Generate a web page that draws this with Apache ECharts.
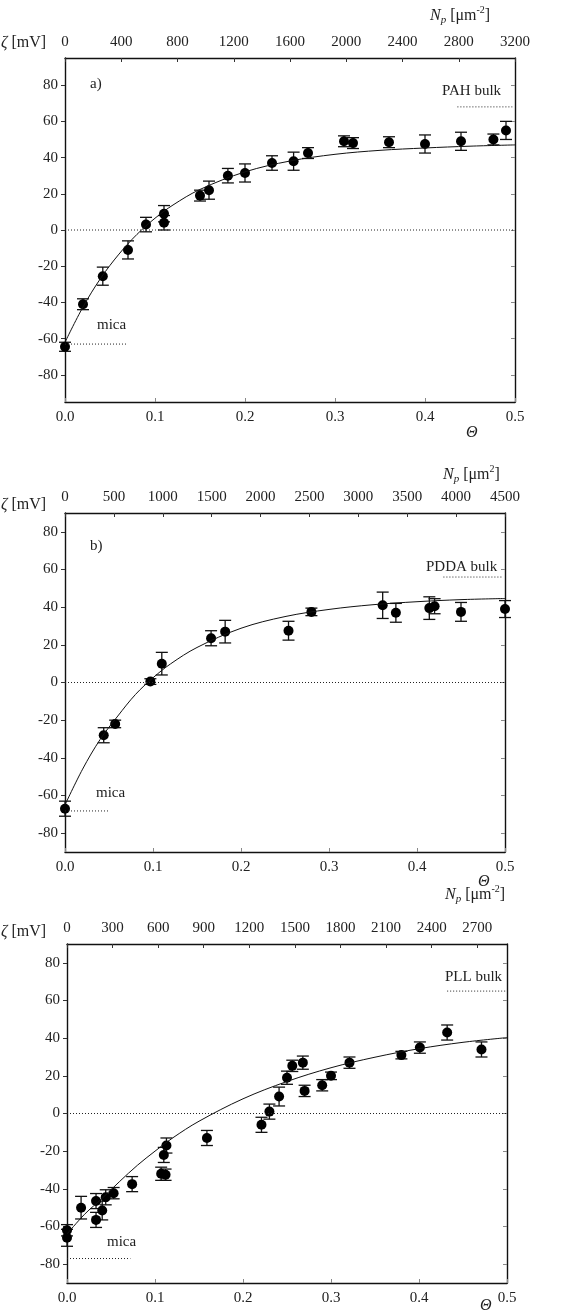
<!DOCTYPE html>
<html>
<head>
<meta charset="utf-8">
<script src="https://cdn.jsdelivr.net/npm/echarts@6/dist/echarts.min.js"></script>
<style>
html,body{margin:0;padding:0;background:#fff;}
#chart{width:564px;height:1313px;}
</style>
</head>
<body>
<div id="chart"></div>
<script>
// ---------- DATA ----------
const yTickValues = [-80, -60, -40, -20, 0, 20, 40, 60, 80];

// Panel a (PAH)
const thetaA = [0, 0.02, 0.042, 0.07, 0.09, 0.11, 0.11, 0.15, 0.16, 0.181, 0.2, 0.23, 0.254, 0.27, 0.31, 0.32, 0.36, 0.4, 0.44, 0.476, 0.49];
const zetaA  = [-64.5, -41, -25.5, -11, 3, 9, 4, 19, 22, 30, 31.5, 37, 38, 42.5, 49, 48, 48.5, 47.5, 49, 50, 55];
const errA   = [2.5, 3, 5, 5, 4, 4.5, 4, 3, 5, 4, 5, 4, 5, 3, 3, 3, 3, 5, 5, 3, 5];
const curveThetaA = [0, 0.02, 0.04, 0.06, 0.08, 0.1, 0.12, 0.15, 0.2, 0.25, 0.3, 0.35, 0.4, 0.45, 0.5];
const curveZetaA  = [-62, -42.5, -26.4, -13.3, -2.4, 6.5, 13.8, 22.4, 32.1, 38.1, 41.8, 44, 45.3, 46.3, 47];
const micaA = {level: -63, span: [0, 0.069]};
const bulkA = {level: 68, span: [0.436, 0.497]};
const topTicksA = {max: 3200, interval: 400};

// Panel b (PDDA)
const thetaB = [0, 0.044, 0.057, 0.097, 0.11, 0.166, 0.182, 0.254, 0.28, 0.361, 0.376, 0.414, 0.42, 0.45, 0.5];
const zetaB  = [-67, -28, -22, 0.5, 10, 23.5, 27, 27.5, 37.5, 41, 37, 39.5, 40.5, 37.5, 39];
const errB   = [4, 4, 2, 1.5, 6, 4, 6, 5, 2, 7, 5, 6, 4, 5, 4.5];
const curveThetaB = [0, 0.02, 0.04, 0.06, 0.08, 0.1, 0.12, 0.15, 0.2, 0.25, 0.3, 0.35, 0.4, 0.45, 0.5];
const curveZetaB  = [-65, -46, -30.2, -17.8, -6.4, 2.5, 9.9, 18.6, 28.8, 35, 38.8, 41.3, 42.9, 44, 44.6];
const micaB = {level: -68.2, span: [0, 0.051]};
const bulkB = {level: 56, span: [0.43, 0.498]};
const topTicksB = {max: 4500, interval: 500};

// Panel c (PLL)
const thetaC = [0, 0, 0.016, 0.033, 0.033, 0.04, 0.044, 0.053, 0.074, 0.107, 0.112, 0.11, 0.113, 0.159, 0.221, 0.23, 0.241, 0.25, 0.256, 0.268, 0.27, 0.29, 0.3, 0.321, 0.38, 0.401, 0.432, 0.471];
const zetaC  = [-62, -66, -50, -46.5, -56.5, -51.5, -44.5, -42.3, -37.5, -32, -32.5, -22, -17, -13, -6, 1, 9, 19, 25.3, 27, 12, 15, 20, 27, 31, 35, 43, 34];
const errC   = [3, 4.5, 6, 4, 4, 5, 4, 3, 4, 3.5, 3, 4, 4, 4, 4, 4, 5, 3.5, 3, 3.5, 3, 3, 2, 3, 2, 3, 4, 4];
const curveThetaC = [0, 0.02, 0.04, 0.06, 0.08, 0.1, 0.12, 0.15, 0.2, 0.25, 0.3, 0.35, 0.4, 0.45, 0.5];
const curveZetaC  = [-64, -53.5, -45, -36, -27.5, -20, -13, -4.1, 7.8, 17, 24.3, 29.9, 34.4, 37.8, 40.3];
const micaC = {level: -77, span: [0, 0.072]};
const bulkC = {level: 65, span: [0.432, 0.5]};
const topTicksC = {max: 2896, interval: 300};

// ---------- CHART ----------
const FONT = '"Liberation Serif", "DejaVu Serif", serif';
const TXT = '#222';
const TICK_FS = 15;
const chart = echarts.init(document.getElementById('chart'), null, {renderer: 'canvas'});

const grids = [
  {left: 65, top: 58, width: 450, height: 344, yMin: -95, yMax: 95, top_: topTicksA},
  {left: 65, top: 513, width: 440, height: 339, yMin: -90, yMax: 90, top_: topTicksB},
  {left: 67, top: 944, width: 440, height: 339, yMin: -90, yMax: 90, top_: topTicksC}
];

const axisLineStyle = {show: true, onZero: false, lineStyle: {color: '#111', width: 1.4}};
const labelStyle = {fontFamily: FONT, fontSize: TICK_FS, color: TXT};

const option = {
  animation: false,
  backgroundColor: '#fff',
  grid: grids.map(g => ({left: g.left, top: g.top, width: g.width, height: g.height, containLabel: false})),
  xAxis: [],
  yAxis: [],
  series: [],
  graphic: []
};

grids.forEach((g, i) => {
  option.xAxis.push({
    type: 'value', gridIndex: i, position: 'bottom', min: 0, max: 0.5, interval: 0.1,
    axisLine: axisLineStyle, splitLine: {show: false},
    axisTick: {show: true, inside: true, length: 4, lineStyle: {color: '#888'}},
    axisLabel: Object.assign({margin: 8, formatter: v => v.toFixed(1)}, labelStyle)
  });
  option.xAxis.push({
    type: 'value', gridIndex: i, position: 'top', min: 0, max: g.top_.max, interval: g.top_.interval,
    axisLine: axisLineStyle, splitLine: {show: false},
    axisTick: {show: true, inside: true, length: 4, lineStyle: {color: '#333'}},
    axisLabel: Object.assign({margin: 8, formatter: v => String(v), showMaxLabel: g.top_.max % g.top_.interval === 0}, labelStyle)
  });
  option.yAxis.push({
    type: 'value', gridIndex: i, position: 'left', min: g.yMin, max: g.yMax,
    axisLine: axisLineStyle, splitLine: {show: false},
    axisTick: {show: true, inside: false, length: 4, customValues: yTickValues, lineStyle: {color: '#333'}},
    axisLabel: Object.assign({margin: 7, customValues: yTickValues}, labelStyle)
  });
  option.yAxis.push({
    type: 'value', gridIndex: i, position: 'right', min: g.yMin, max: g.yMax,
    axisLine: axisLineStyle, splitLine: {show: false},
    axisTick: {show: true, inside: true, length: 4, customValues: yTickValues, lineStyle: {color: '#888'}},
    axisLabel: {show: false}
  });
});

function zip2(a, b) { return a.map((v, k) => [v, b[k]]); }
function zip3(a, b, c) { return a.map((v, k) => [v, b[k], c[k]]); }

const panels = [
  {theta: thetaA, zeta: zetaA, err: errA, cth: curveThetaA, cz: curveZetaA, mica: micaA, bulk: bulkA},
  {theta: thetaB, zeta: zetaB, err: errB, cth: curveThetaB, cz: curveZetaB, mica: micaB, bulk: bulkB},
  {theta: thetaC, zeta: zetaC, err: errC, cth: curveThetaC, cz: curveZetaC, mica: micaC, bulk: bulkC}
];

panels.forEach((p, i) => {
  const xi = 2 * i, yi = 2 * i;
  const dotted = {color: '#222', width: 1, type: [1, 2]};
  option.series.push({
    type: 'line', xAxisIndex: xi, yAxisIndex: yi, data: [[0, 0], [0.5, 0]],
    symbol: 'none', lineStyle: dotted, silent: true
  });
  option.series.push({
    type: 'line', xAxisIndex: xi, yAxisIndex: yi, data: [[p.mica.span[0], p.mica.level], [p.mica.span[1], p.mica.level]],
    symbol: 'none', lineStyle: dotted, silent: true
  });
  option.series.push({
    type: 'line', xAxisIndex: xi, yAxisIndex: yi, data: [[p.bulk.span[0], p.bulk.level], [p.bulk.span[1], p.bulk.level]],
    symbol: 'none', lineStyle: dotted, silent: true
  });
  option.series.push({
    type: 'line', xAxisIndex: xi, yAxisIndex: yi, data: zip2(p.cth, p.cz),
    symbol: 'none', smooth: 0.35, lineStyle: {color: '#111', width: 1}, silent: true
  });
  option.series.push({
    type: 'custom', xAxisIndex: xi, yAxisIndex: yi, data: zip3(p.theta, p.zeta, p.err),
    clip: false,
    renderItem: function (params, api) {
      const x = api.value(0), y = api.value(1), e = api.value(2);
      const hi = api.coord([x, y + e]);
      const lo = api.coord([x, y - e]);
      const hw = 6;
      const st = {stroke: '#111', lineWidth: 1.3};
      return {
        type: 'group',
        children: [
          {type: 'line', shape: {x1: hi[0], y1: hi[1], x2: lo[0], y2: lo[1]}, style: st},
          {type: 'line', shape: {x1: hi[0] - hw, y1: hi[1], x2: hi[0] + hw, y2: hi[1]}, style: st},
          {type: 'line', shape: {x1: lo[0] - hw, y1: lo[1], x2: lo[0] + hw, y2: lo[1]}, style: st}
        ]
      };
    }
  });
  option.series.push({
    type: 'scatter', xAxisIndex: xi, yAxisIndex: yi, data: zip2(p.theta, p.zeta),
    symbol: 'circle', symbolSize: 10, itemStyle: {color: '#000', opacity: 1}, clip: false
  });
});

// ---------- TEXT (labels, annotations) ----------
const mctx = document.createElement('canvas').getContext('2d');
function composite(parts, x, y) {
  let cx = x;
  parts.forEach(pt => {
    const font = (pt.italic ? 'italic ' : '') + pt.size + 'px ' + FONT;
    mctx.font = font;
    option.graphic.push({
      type: 'text', x: cx, y: y + (pt.dy || 0), silent: true,
      style: {text: pt.t, font: font, fill: TXT, textAlign: 'left', textVerticalAlign: 'middle', align: 'left', verticalAlign: 'middle'}
    });
    cx += mctx.measureText(pt.t).width;
  });
}
function plain(t, x, y, size, italic) {
  composite([{t: t, size: size || 15, italic: !!italic}], x, y);
}

const npMinus = [{t: 'N', size: 16, italic: true}, {t: 'p', size: 11, italic: true, dy: 4}, {t: ' [\u03bcm', size: 16}, {t: '-2', size: 10, dy: -6}, {t: ']', size: 16}];
const npPlus  = [{t: 'N', size: 16, italic: true}, {t: 'p', size: 11, italic: true, dy: 4}, {t: ' [\u03bcm', size: 16}, {t: '2', size: 10, dy: -6}, {t: ']', size: 16}];
const zetaLbl = [{t: '\u03b6', size: 16, italic: true}, {t: ' [mV]', size: 16}];

// panel a
composite(zetaLbl, 1, 43);
composite(npMinus, 430, 16);
plain('a)', 90, 84, 15);
plain('PAH bulk', 442, 91, 15);
plain('mica', 97, 325, 15);
plain('\u0398', 466, 433, 16, true);
// panel b
composite(zetaLbl, 1, 505);
composite(npPlus, 443, 475);
plain('b)', 90, 546, 15);
plain('PDDA bulk', 426, 567, 15);
plain('mica', 96, 793, 15);
plain('\u0398', 478, 882, 16, true);
// panel c
composite(zetaLbl, 1, 932);
composite(npMinus, 445, 895);
plain('PLL bulk', 445, 977, 15);
plain('mica', 107, 1242, 15);
plain('\u0398', 480, 1306, 16, true);

chart.setOption(option);
</script>
</body>
</html>
